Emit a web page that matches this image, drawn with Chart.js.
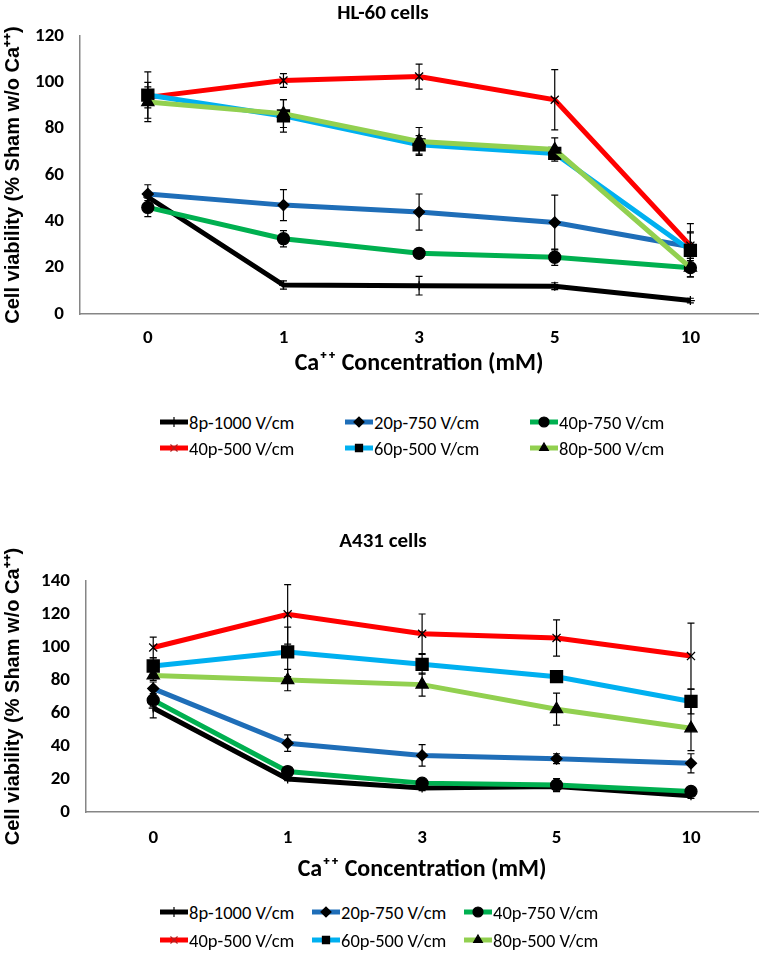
<!DOCTYPE html>
<html>
<head>
<meta charset="utf-8">
<script src="https://cdn.jsdelivr.net/npm/chart.js@4.4.1/dist/chart.umd.min.js"></script>
<style>
  html, body { margin: 0; padding: 0; background: #fff; }
  body { width: 768px; height: 960px; position: relative; overflow: hidden;
         font-family: Carlito, "Liberation Sans Narrow", "Open Sans", sans-serif; }
  .box { position: absolute; left: 0; width: 768px; }
  .legend { position: absolute; display: grid; }
  .item { display: flex; align-items: center; font-size: 18.5px; color: #000; white-space: nowrap; }
  .item canvas { margin-right: 1px; }
</style>
</head>
<body>
<div class="box" style="top:0;height:385px"><canvas id="chartHL60"></canvas></div>
<div class="legend" id="legendHL60" style="top:409px;left:160px;grid-template-columns:185px 185px 185px;grid-auto-rows:26px"></div>
<div class="box" style="top:505px;height:385px"><canvas id="chartA431"></canvas></div>
<div class="legend" id="legendA431" style="top:898px;left:160px;grid-template-columns:152px 152px 152px;grid-auto-rows:28px"></div>

<script>
// categorias (concentracion de Ca++ en mM)
const concentraciones = ["0", "1", "3", "5", "10"];

// nombres de las series y estilos
const series = ["8p-1000 V/cm", "20p-750 V/cm", "40p-750 V/cm", "40p-500 V/cm", "60p-500 V/cm", "80p-500 V/cm"];
const colores = ["#000000", "#1f6eb8", "#00b050", "#ff0000", "#00b0f0", "#92d050"];
const marcadores = ["cross", "rectRot", "circle", "crossRot", "rect", "triangle"];
const radios = [4.5, 5.5, 6, 5.7, 8.5, 7];

// HL-60: valores y barras de error
const hl60_8p1000 = [50.5, 12.5, 12.2, 12, 5.8];
const hl60_20p750 = [51.8, 47, 44, 39.5, 29];
const hl60_40p750 = [46, 32.5, 26.2, 24.5, 20];
const hl60_40p500 = [93.5, 100.8, 102.5, 92.5, 29.5];
const hl60_60p500 = [94.5, 85.5, 73, 69.3, 27.5];
const hl60_80p500 = [91.5, 86.5, 74.5, 71, 20];

const hl60_err_8p1000 = [1.5, 1.8, 4, 1.5, 1];
const hl60_err_20p750 = [4, 6.7, 7.8, 11.8, 6];
const hl60_err_40p750 = [4, 3.5, 2, 3.5, 4];
const hl60_err_40p500 = [4.5, 3, 5.4, 13, 9.5];
const hl60_err_60p500 = [10, 7, 4, 2.5, 8];
const hl60_err_80p500 = [8.5, 6, 6, 5, 4];

// A431: valores y barras de error
const a431_8p1000 = [63, 20, 14.5, 15.5, 9.8];
const a431_20p750 = [74.8, 41.7, 34.3, 32.3, 29.5];
const a431_40p750 = [67.8, 24.5, 17.5, 16.3, 12.5];
const a431_40p500 = [99.7, 119.8, 108, 105.5, 94.5];
const a431_60p500 = [88.5, 97, 89.5, 82, 67];
const a431_80p500 = [82.8, 80, 77.2, 62.3, 50.7];

const a431_err_8p1000 = [6, 1, 1.5, 3, 1.5];
const a431_err_20p750 = [4, 5, 6.5, 3, 5.8];
const a431_err_40p750 = [4, 2, 2, 4, 2];
const a431_err_40p500 = [6.3, 18, 12, 11, 20];
const a431_err_60p500 = [5, 15, 6, 2, 7.5];
const a431_err_80p500 = [3, 6.5, 7, 9.7, 13.5];

const ticksHL60 = [0, 20, 40, 60, 80, 100, 120];
const ticksA431 = [0, 20, 40, 60, 80, 100, 120, 140];

const fuenteCalibri = 'Carlito, "Liberation Sans Narrow", "Open Sans", sans-serif';
Chart.defaults.font.family = fuenteCalibri;
Chart.defaults.color = "#000";

// Plugin para dibujar las barras de error con la escala del grafico
const barrasError = {
    id: "barrasError",
    afterDatasetDraw(chart, args) {
        const ds = chart.data.datasets[args.index];
        if (!ds.errores) return;
        const ctx = chart.ctx;
        const y = chart.scales.y;
        ctx.save();
        ctx.strokeStyle = "#000";
        ctx.lineWidth = 1.2;
        args.meta.data.forEach((pt, i) => {
            const e = ds.errores[i];
            if (!e) return;
            const arriba = y.getPixelForValue(ds.data[i] + e);
            const abajo = y.getPixelForValue(ds.data[i] - e);
            ctx.beginPath();
            ctx.moveTo(pt.x, arriba); ctx.lineTo(pt.x, abajo);
            ctx.moveTo(pt.x - 3.5, arriba); ctx.lineTo(pt.x + 3.5, arriba);
            ctx.moveTo(pt.x - 3.5, abajo); ctx.lineTo(pt.x + 3.5, abajo);
            ctx.stroke();
        });
        ctx.restore();
    }
};

function crearDatasets(valores, errores) {
    return valores.map((v, i) => ({
        label: series[i],
        data: v,
        errores: errores[i],
        borderColor: colores[i],
        backgroundColor: colores[i],
        borderWidth: 5,
        tension: 0,
        pointStyle: marcadores[i],
        pointRadius: radios[i],
        pointBackgroundColor: "#000",
        pointBorderColor: "#000",
        pointBorderWidth: 1.3,
        order: 10 - i
    }));
}

function crearGrafico(id, titulo, datasets, ticks, cfg) {
    const ctx = document.getElementById(id).getContext("2d");
    return new Chart(ctx, {
        type: "line",
        data: { labels: concentraciones, datasets: datasets },
        plugins: [barrasError],
        options: {
            responsive: true,
            maintainAspectRatio: false,
            animation: false,
            layout: { padding: { left: 0, right: 2, top: 0, bottom: 0 } },
            plugins: {
                legend: { display: false },
                tooltip: { enabled: false },
                title: {
                    display: true,
                    text: titulo,
                    color: "#000",
                    font: { size: 21, weight: "bold" },
                    padding: cfg.tituloPadding
                }
            },
            scales: {
                x: {
                    offset: true,
                    afterFit: s => { s.height = cfg.xAlto; },
                    grid: { drawOnChartArea: false, drawTicks: false },
                    border: { color: "#868686", width: 1.5 },
                    ticks: { font: { size: 19, weight: "bold" }, padding: cfg.xTickPad },
                    title: {
                        display: true,
                        text: "Ca\u207A\u207A Concentration (mM)",
                        font: { size: 24, weight: "bold" },
                        padding: cfg.xTitlePad
                    }
                },
                y: {
                    min: 0,
                    max: ticks[ticks.length - 1],
                    afterBuildTicks: s => { s.ticks = ticks.map(v => ({ value: v })); },
                    afterFit: s => { s.width = cfg.yAncho; },
                    grid: { drawOnChartArea: false, drawTicks: false },
                    border: { color: "#868686", width: 1.5 },
                    ticks: { font: { size: 19, weight: "bold" }, padding: cfg.yTickPad },
                    title: {
                        display: true,
                        text: "Cell viability (% Sham w/o Ca\u207A\u207A)",
                        font: { family: '"Liberation Sans", Arial, sans-serif', size: 20, weight: "bold" },
                        padding: { top: 1, bottom: 0 }
                    }
                }
            }
        }
    });
}

// Leyenda en HTML con linea y marcador dibujados con el helper de Chart.js
function crearLeyenda(idLeyenda, grafico) {
    const cont = document.getElementById(idLeyenda);
    grafico.data.datasets.forEach(ds => {
        const item = document.createElement("div");
        item.className = "item";
        const c = document.createElement("canvas");
        c.width = 28; c.height = 14;
        const g = c.getContext("2d");
        g.strokeStyle = ds.borderColor;
        g.lineWidth = 5;
        g.beginPath(); g.moveTo(0, 7); g.lineTo(28, 7); g.stroke();
        g.fillStyle = "#000";
        g.strokeStyle = ds.pointStyle === "crossRot" ? "#b02020" : "#000";
        g.lineWidth = 1.2;
        Chart.helpers.drawPoint(g, { pointStyle: ds.pointStyle, radius: 5, borderWidth: 1.2, rotation: 0 }, 14, 7);
        item.appendChild(c);
        const t = document.createElement("span");
        t.textContent = ds.label;
        item.appendChild(t);
        cont.appendChild(item);
    });
}

const graficoHL60 = crearGrafico("chartHL60", "HL-60 cells",
    crearDatasets([hl60_8p1000, hl60_20p750, hl60_40p750, hl60_40p500, hl60_60p500, hl60_80p500],
                  [hl60_err_8p1000, hl60_err_20p750, hl60_err_40p750, hl60_err_40p500, hl60_err_60p500, hl60_err_80p500]),
    ticksHL60,
    { tituloPadding: { top: 1, bottom: 9.8 }, xAlto: 71, xTickPad: 12.6, xTitlePad: { top: 0, bottom: 6.6 }, yAncho: 80, yTickPad: 16 });

const graficoA431 = crearGrafico("chartA431", "A431 cells",
    crearDatasets([a431_8p1000, a431_20p750, a431_40p750, a431_40p500, a431_60p500, a431_80p500],
                  [a431_err_8p1000, a431_err_20p750, a431_err_40p750, a431_err_40p500, a431_err_60p500, a431_err_80p500]),
    ticksA431,
    { tituloPadding: { top: 24.4, bottom: 26.4 }, xAlto: 78, xTickPad: 14.6, xTitlePad: { top: 0, bottom: 5.6 }, yAncho: 86, yTickPad: 16 });

crearLeyenda("legendHL60", graficoHL60);
crearLeyenda("legendA431", graficoA431);
</script>
</body>
</html>
